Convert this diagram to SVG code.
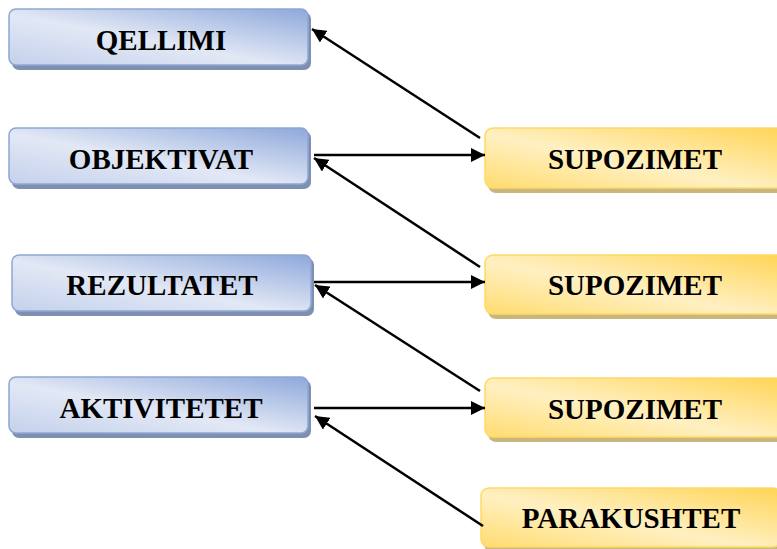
<svg xmlns="http://www.w3.org/2000/svg" width="777" height="549" viewBox="0 0 777 549">
  <defs>
    <linearGradient id="blueFill" x1="0" y1="1" x2="1" y2="0">
      <stop offset="0" stop-color="#c4d1ec"/>
      <stop offset="0.45" stop-color="#e2e8f5"/>
      <stop offset="1" stop-color="#8ea8db"/>
    </linearGradient>
    <linearGradient id="yellowFill" x1="0" y1="1" x2="1" y2="0">
      <stop offset="0" stop-color="#ffdc70"/>
      <stop offset="0.45" stop-color="#fff0c2"/>
      <stop offset="1" stop-color="#ffd455"/>
    </linearGradient>
    <marker id="arrowBig" viewBox="0 0 14 14" refX="14" refY="7" markerWidth="14" markerHeight="14" markerUnits="userSpaceOnUse" orient="auto">
      <path d="M0,0 L14,7 L0,14 z" fill="#000"/>
    </marker>
  </defs>
  <style>
    .blue { fill: url(#blueFill); stroke: #8ea6d6; stroke-width: 1.5; }
    .blueShadow { fill: #7f8fb0; }
    .yellow { fill: url(#yellowFill); stroke: #ffd964; stroke-width: 1.5; }
    .yellowShadow { fill: #c9b67e; }
    .label { font-family: "Liberation Serif", "Times New Roman", serif; font-weight: bold; font-size: 29px; fill: #000; text-anchor: middle; }
    .conn { stroke: #000; stroke-width: 2.5; fill: none; }
  </style>

  <!-- left column: plan levels -->
  <g id="qellimi">
    <rect class="blueShadow" x="12" y="12" width="299" height="58" rx="7"/>
    <rect class="blue" x="9" y="9" width="299" height="56" rx="7"/>
    <text class="label" x="161" y="50">QELLIMI</text>
  </g>
  <g id="objektivat">
    <rect class="blueShadow" x="12" y="131" width="299" height="58" rx="7"/>
    <rect class="blue" x="9" y="128" width="299" height="56" rx="7"/>
    <text class="label" x="161" y="169">OBJEKTIVAT</text>
  </g>
  <g id="rezultatet">
    <rect class="blueShadow" x="15" y="258" width="299" height="58" rx="7"/>
    <rect class="blue" x="12" y="255" width="299" height="56" rx="7"/>
    <text class="label" x="162" y="295">REZULTATET</text>
  </g>
  <g id="aktivitetet">
    <rect class="blueShadow" x="12" y="380" width="299" height="58" rx="7"/>
    <rect class="blue" x="9" y="377" width="299" height="56" rx="7"/>
    <text class="label" x="161" y="418">AKTIVITETET</text>
  </g>

  <!-- right column: assumptions and preconditions -->
  <g id="supozimet1">
    <rect class="yellowShadow" x="488" y="132" width="300" height="61" rx="8"/>
    <rect class="yellow" x="485" y="128" width="300" height="60" rx="8"/>
    <text class="label" x="635" y="169">SUPOZIMET</text>
  </g>
  <g id="supozimet2">
    <rect class="yellowShadow" x="488" y="259" width="300" height="60" rx="8"/>
    <rect class="yellow" x="485" y="255" width="300" height="59" rx="8"/>
    <text class="label" x="635" y="295">SUPOZIMET</text>
  </g>
  <g id="supozimet3">
    <rect class="yellowShadow" x="488" y="382" width="300" height="60" rx="8"/>
    <rect class="yellow" x="485" y="378" width="300" height="59" rx="8"/>
    <text class="label" x="635" y="419">SUPOZIMET</text>
  </g>
  <g id="parakushtet">
    <rect class="yellowShadow" x="484" y="492" width="300" height="60" rx="8"/>
    <rect class="yellow" x="481" y="488" width="300" height="59" rx="8"/>
    <text class="label" x="631" y="528">PARAKUSHTET</text>
  </g>

  <!-- connectors -->
  <g id="connectors">
    <line class="conn" x1="480" y1="138" x2="312" y2="29" marker-end="url(#arrowBig)"/>
    <line class="conn" x1="314" y1="155" x2="485" y2="155" marker-end="url(#arrowBig)"/>
    <line class="conn" x1="480" y1="267" x2="314" y2="158" marker-end="url(#arrowBig)"/>
    <line class="conn" x1="314" y1="282" x2="485" y2="282" marker-end="url(#arrowBig)"/>
    <line class="conn" x1="480" y1="391" x2="315" y2="285" marker-end="url(#arrowBig)"/>
    <line class="conn" x1="314" y1="408" x2="485" y2="408" marker-end="url(#arrowBig)"/>
    <line class="conn" x1="483" y1="526" x2="315" y2="416" marker-end="url(#arrowBig)"/>
  </g>
</svg>
